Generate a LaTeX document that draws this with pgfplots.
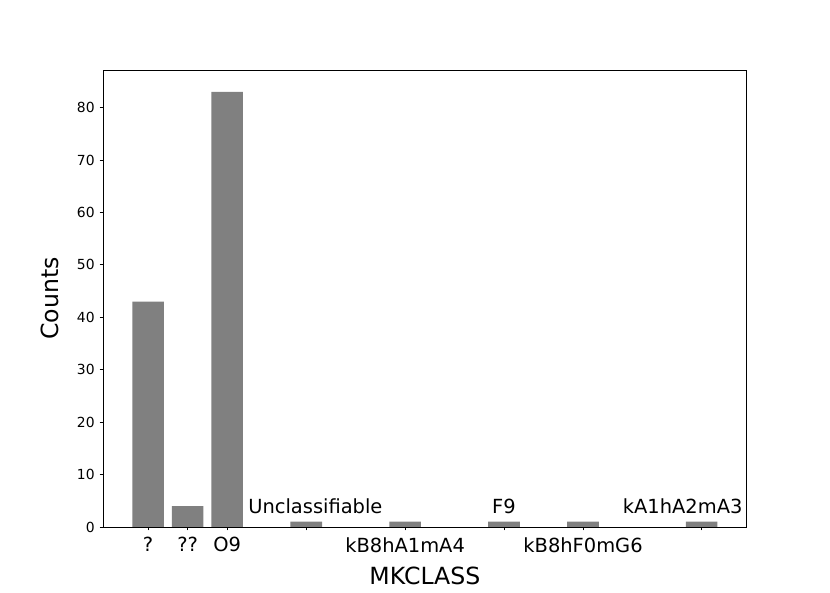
\documentclass[border=0pt]{standalone}
\usepackage{fontspec}
\setmainfont{DejaVu Sans}
\usepackage{pgfplots}
\pgfplotsset{compat=1.18}

% 1 px of the reference = 0.72pt
\begin{document}
\begin{tikzpicture}
\begin{axis}[
    scale only axis,
    width=463.5pt, height=329pt,
    xmin=-1.14, xmax=15.14,
    ymin=0, ymax=87.15,
    ybar, bar width=0.8, bar shift=0pt,
    xtick={0,1,2,4,6.5,9,11,14},
    xticklabels={?,??,O9,,kB8hA1mA4,,kB8hF0mG6,},
    ytick={0,10,20,30,40,50,60,70,80},
    tick align=outside,
    major tick length=2.5pt,
    xtick pos=bottom, ytick pos=left,
    axis line style={line width=0.6pt},
    tick style={line width=0.6pt, black},
    /pgf/number format/assume math mode=true,
    x tick label style={font=\fontsize{14}{16}\selectfont, yshift=-1.5pt},
    y tick label style={font=\fontsize{10}{12}\selectfont},
    xlabel={MKCLASS}, ylabel={Counts},
    label style={font=\fontsize{17}{20}\selectfont},
    xlabel style={at={(axis description cs:0.5,-0.107)}, anchor=center},
    ylabel style={at={(axis description cs:-0.082,0.5)}, anchor=center, rotate=0},
    clip=false,
]
\addplot[fill=gray, draw=none] coordinates {
    (0,43) (1,4) (2,83) (4,1) (6.5,1) (9,1) (11,1) (14,1)
};
\node[font=\fontsize{14}{16}\selectfont] at (axis cs:4.23,3.9) {Unclassifiable};
\node[font=\fontsize{14}{16}\selectfont] at (axis cs:9,3.9) {F9};
\node[font=\fontsize{14}{16}\selectfont] at (axis cs:13.52,3.9) {kA1hA2mA3};
\end{axis}
\pgfresetboundingbox
\useasboundingbox (current axis.south west) ++(-74.16pt,-47.52pt) rectangle ++(597.6pt,426.96pt);
\end{tikzpicture}
\end{document}
